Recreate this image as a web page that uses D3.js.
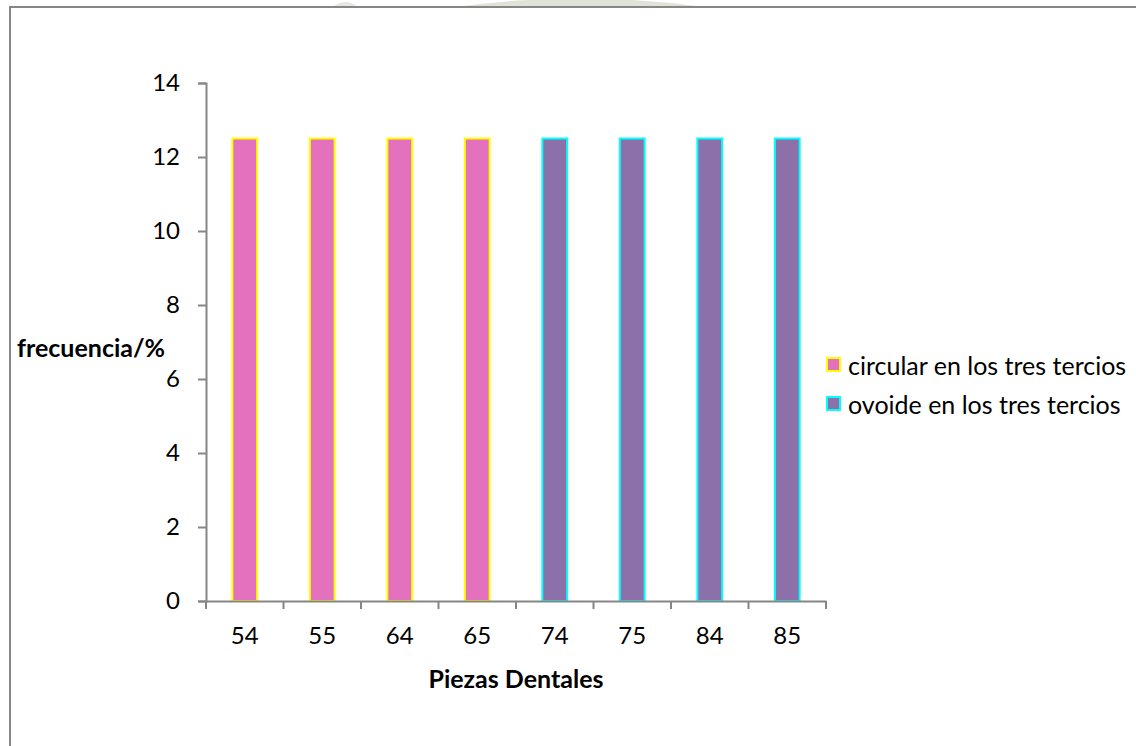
<!DOCTYPE html>
<html>
<head>
<meta charset="utf-8">
<script src="https://cdn.jsdelivr.net/npm/d3@7"></script>
<style>
  html, body { margin: 0; padding: 0; background: #fff; }
  svg { display: block; }
  text { font-family: Lato, "Open Sans", sans-serif; fill: #000; }
</style>
</head>
<body>
<svg id="chart" width="1136" height="746"></svg>
<script>
const categories = ["54", "55", "64", "65", "74", "75", "84", "85"];
const circularValues = [12.5, 12.5, 12.5, 12.5, 0, 0, 0, 0];
const ovoideValues = [0, 0, 0, 0, 12.5, 12.5, 12.5, 12.5];
const yTickValues = [0, 2, 4, 6, 8, 10, 12, 14];
const seriesNames = ["circular en los tres tercios", "ovoide en los tres tercios"];
const seriesFill = ["#E371BD", "#8B70A9"];
const seriesStroke = ["#FFFF00", "#00FFFF"];
const yTitle = "frecuencia/%";
const xTitle = "Piezas Dentales";

const series = [
  { name: seriesNames[0], values: circularValues, fill: seriesFill[0], stroke: seriesStroke[0] },
  { name: seriesNames[1], values: ovoideValues, fill: seriesFill[1], stroke: seriesStroke[1] }
];

const svg = d3.select("#chart");
const axisColor = "#868686";
const tickFont = 24;
const textFont = 25;

// faint watermark above chart border
svg.append("path")
  .attr("d", "M455,7 Q580,-10 705,7 Z")
  .attr("fill", "#dfe3d8");
svg.append("path")
  .attr("d", "M333,7 Q345,-3 358,7 Z")
  .attr("fill", "#e6e8e2");

// chart area border
svg.append("rect")
  .attr("x", 10).attr("y", 7)
  .attr("width", 1150).attr("height", 760)
  .attr("fill", "#fff")
  .attr("stroke", axisColor).attr("stroke-width", 2);

const plot = { left: 206, right: 826, top: 83, bottom: 601 };

const x = d3.scaleBand().domain(categories).range([plot.left, plot.right]).padding(0);
const y = d3.scaleLinear().domain([0, 14]).range([plot.bottom, plot.top]);

const barW = x.bandwidth() * 0.32;

// bars
series.forEach(s => {
  svg.append("g").selectAll("rect")
    .data(categories.map((c, i) => ({ c, v: s.values[i] })).filter(d => d.v > 0))
    .join("rect")
    .attr("x", d => x(d.c) + x.bandwidth() / 2 - barW / 2)
    .attr("y", d => y(d.v))
    .attr("width", barW)
    .attr("height", d => y(0) - y(d.v))
    .attr("fill", s.fill)
    .attr("stroke", s.stroke)
    .attr("stroke-width", 2);
});

// y axis
const yAxis = svg.append("g")
  .attr("transform", `translate(${plot.left},0)`)
  .call(d3.axisLeft(y).tickValues(yTickValues).tickSize(8).tickPadding(18).tickFormat(d3.format("d")));
yAxis.select(".domain").attr("stroke", axisColor).attr("stroke-width", 2);
yAxis.selectAll(".tick line").attr("stroke", axisColor).attr("stroke-width", 2);
yAxis.selectAll(".tick text").attr("font-size", tickFont).attr("font-family", "Lato").attr("fill", "#000");

// x axis: ticks at category boundaries
const xAxis = svg.append("g")
  .attr("transform", `translate(0,${plot.bottom})`)
  .call(d3.axisBottom(x).tickSize(0).tickPadding(26));
xAxis.select(".domain").attr("stroke", axisColor).attr("stroke-width", 2);
xAxis.selectAll(".tick text").attr("font-size", tickFont).attr("font-family", "Lato").attr("fill", "#000");
const boundaries = categories.map(c => x(c)).concat([x(categories[categories.length - 1]) + x.bandwidth()]);
xAxis.selectAll("line.boundary")
  .data(boundaries)
  .join("line")
  .attr("class", "boundary")
  .attr("x1", d => d).attr("x2", d => d)
  .attr("y1", 0).attr("y2", 8)
  .attr("stroke", axisColor).attr("stroke-width", 2);

// axis titles
svg.append("text")
  .attr("x", 17).attr("y", 347)
  .attr("dominant-baseline", "central")
  .attr("font-size", textFont).attr("font-weight", "bold")
  .text(yTitle);

svg.append("text")
  .attr("x", (plot.left + plot.right) / 2).attr("y", 678)
  .attr("text-anchor", "middle")
  .attr("dominant-baseline", "central")
  .attr("font-size", textFont).attr("font-weight", "bold")
  .text(xTitle);

// legend
const legend = svg.append("g");
series.forEach((s, i) => {
  const cy = 365 + i * 39;
  legend.append("rect")
    .attr("x", 827).attr("y", cy - 7)
    .attr("width", 13).attr("height", 13)
    .attr("fill", s.fill)
    .attr("stroke", s.stroke).attr("stroke-width", 2);
  legend.append("text")
    .attr("x", 848).attr("y", cy)
    .attr("dominant-baseline", "central")
    .attr("font-size", textFont)
    .text(s.name);
});
</script>
</body>
</html>
